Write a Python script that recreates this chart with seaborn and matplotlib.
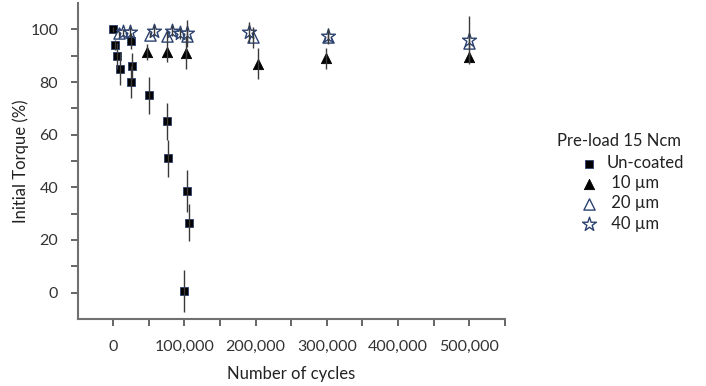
import numpy as np
import pandas as pd
import matplotlib
matplotlib.use("Agg")
from matplotlib import pyplot as plt
import seaborn as sns

# values
uncoated_x = [0, 3000, 5000, 10000, 25000, 27000, 25000, 50000, 75000, 77000, 103000, 107000, 100000]
uncoated_y = [100, 94, 90, 85, 95.5, 86, 80, 75, 65, 51, 38.5, 26.5, 0.5]
uncoated_err = [1, 2, 5, 6, 3, 5, 6, 7, 7, 7, 8, 7, 8]

um10_x = [48000, 76000, 102000, 204000, 299000, 500000]
um10_y = [91.5, 91.5, 91, 87, 89, 89.5]
um10_err = [3, 4, 6, 6, 4, 2]

um20_x = [8000, 52000, 76000, 104000, 197000, 301000, 500000]
um20_y = [98.5, 98, 97.5, 97.5, 97, 97, 95]
um20_err = [1, 1, 2, 2, 4, 2, 2]

um40_x = [13000, 24000, 57000, 83000, 94000, 104000, 191000, 302000, 500000]
um40_y = [99, 99, 99.5, 99.5, 98.5, 98.5, 99, 97.5, 96]
um40_err = [1, 2, 2, 2, 2, 5, 4, 3, 9]

series_labels = ["Un-coated", " 10 \u00b5m", " 20 \u00b5m", " 40 \u00b5m"]
legend_title = "Pre-load 15 Ncm"
x_ticks = list(range(0, 550001, 50000))
x_labels = [f"{v:,}" if v % 100000 == 0 else "" for v in x_ticks]
y_ticks = list(range(0, 101, 10))
y_labels = [str(v) if v % 20 == 0 else "" for v in y_ticks]

sns.set_style("ticks")
plt.rcParams["font.family"] = ["Lato", "DejaVu Sans"]

navy = "#2c4270"
fig = plt.figure(figsize=(7.06, 3.86), dpi=100)
ax = fig.add_axes([0.11, 0.174, 0.605, 0.818])

styles = [
    (uncoated_x, uncoated_y, uncoated_err, "s", "black", navy, 32, 0.6),
    (um10_x, um10_y, um10_err, "^", "black", "black", 55, 0.6),
    (um20_x, um20_y, um20_err, "^", "white", navy, 65, 1.0),
    (um40_x, um40_y, um40_err, "*", "white", navy, 110, 1.0),
]
for (xs, ys, es, mk, fc, ec, size, lw), lab in zip(styles, series_labels):
    df = pd.DataFrame({"cycles": xs, "torque": ys})
    sns.scatterplot(data=df, x="cycles", y="torque", marker=mk, color=fc,
                    edgecolor=ec, linewidth=lw, s=size, ax=ax, label=lab, zorder=2)
    ax.errorbar(xs, ys, yerr=es, fmt="none", ecolor="#3a3a3a", elinewidth=1.0,
                capsize=0, zorder=3)

ax.set_xlim(-50000, 550000)
ax.set_ylim(-10, 110)
ax.set_xticks(x_ticks)
ax.set_xticklabels(x_labels)
ax.set_yticks(y_ticks)
ax.set_yticklabels(y_labels)
ax.tick_params(colors="#595959", labelcolor="#333333", labelsize=11.5,
               width=1.3, length=5)
ax.tick_params(axis="x", pad=10)
ax.tick_params(axis="y", pad=9)
for side in ["left", "bottom"]:
    ax.spines[side].set_color("#707070")
    ax.spines[side].set_linewidth(1.5)
sns.despine(ax=ax)

ax.set_xlabel("Number of cycles", fontsize=12, color="#222222", labelpad=9)
ax.set_ylabel("Initial Torque (%)", fontsize=12, color="#222222", labelpad=1)

leg = ax.legend(loc="upper left", bbox_to_anchor=(0.809, 0.62), bbox_transform=fig.transFigure,
                frameon=False, fontsize=12, handletextpad=0.45, labelspacing=0.25,
                borderpad=0, handlelength=1.2)
for t in leg.get_texts():
    t.set_color("#222222")
fig.text(557 / 706, 1 - 141 / 386, legend_title, fontsize=12, color="#222222",
         va="center", ha="left")

fig.savefig("out.png", dpi=100)
